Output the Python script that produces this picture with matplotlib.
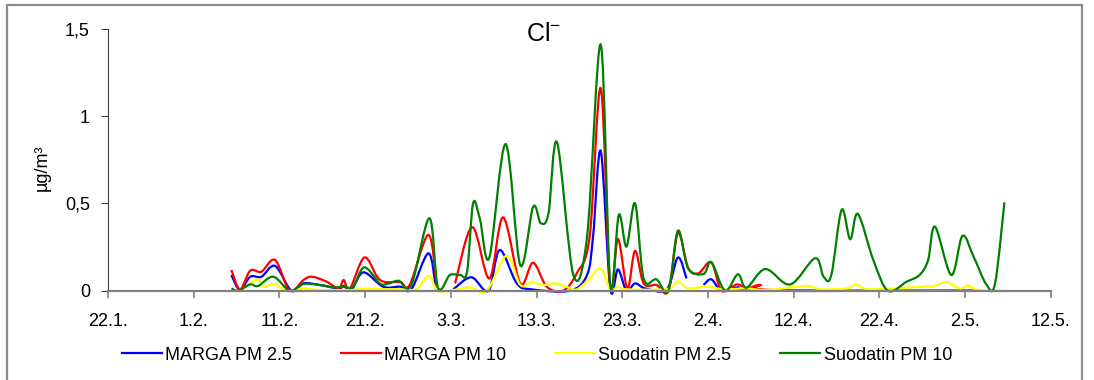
import numpy as np
import matplotlib
matplotlib.use("Agg")
import matplotlib.pyplot as plt
from matplotlib.path import Path
from matplotlib.patches import PathPatch, Rectangle
from matplotlib.lines import Line2D

plt.rcParams['font.family'] = ['Liberation Sans', 'DejaVu Sans']
plt.rcParams['mathtext.default'] = 'regular'

# x = days since 22.1., nan = gap in the series
tick_days = [0, 10, 20, 30, 40, 50, 60, 70, 80, 90, 100, 110]
tick_labels = ['22.1.', '1.2.', '11.2.', '21.2.', '3.3.', '13.3.', '23.3.',
               '2.4.', '12.4.', '22.4.', '2.5.', '12.5.']
y_ticks = [0, 0.5, 1, 1.5]
y_tick_labels = ['0', '0,5', '1', '1,5']

marga25_x = [14.4, 15.4, 16.6, 17.9, 19.5, 21.4, 22.8, 24.7, 26.9, 27.5, 28.4, 29.8,
             32.1, 34.1, 35.4, 37.4, 38.3, np.nan,
             40.3, 42.4, 44.4, 45.7, 47.7, 49.4, 53.9, 55.9, 56.6, 57.5, 58.6, 59.5,
             60.5, 61.5, 62.7, 65.2, 66.5, 67.5, np.nan,
             69.5, 70.4, 71.6, 73.5, 76.1, 101.3]
marga25_y = [0.09, 0.004, 0.08, 0.08, 0.142, 0.0, 0.042, 0.033, 0.013, 0.027, 0.004, 0.105,
             0.023, 0.023, 0.008, 0.214, 0.0, np.nan,
             0.008, 0.077, 0.0, 0.233, 0.042, 0.008, 0.0, 0.09, 0.31, 0.80, 0.015, 0.122,
             0.0, 0.042, 0.013, 0.008, 0.19, 0.07, np.nan,
             0.033, 0.065, 0.0, 0.019, 0.0, 0.0]

marga10_x = [14.4, 15.4, 16.6, 17.9, 19.5, 21.2, 22.8, 23.8, 25.5, 26.9, 27.5, 28.2,
             29.9, 31.4, 32.3, 34.1, 35.2, 37.4, 38.4, np.nan,
             40.5, 42.5, 44.5, 46.1, 48.1, 49.6, 51.2, 53.1, 54.7, 56.2, 57.5, 58.6,
             59.5, 60.6, 61.5, 62.5, 64.0, 65.4, 66.5, 67.7, 68.9, 70.4, 71.6, 73.4,
             74.5, 76.1, 77.6, 101.4]
marga10_y = [0.119, 0.008, 0.115, 0.109, 0.176, 0.0, 0.061, 0.08, 0.052, 0.013, 0.061, 0.008,
             0.19, 0.08, 0.05, 0.05, 0.033, 0.32, 0.005, np.nan,
             0.042, 0.364, 0.07, 0.42, 0.042, 0.16, 0.023, 0.0, 0.1, 0.31, 1.16, 0.025,
             0.297, 0.013, 0.228, 0.042, 0.033, 0.0, 0.33, 0.13, 0.1, 0.163, 0.0, 0.036,
             0.013, 0.033, 0.004, 0.0]

suod25_x = [14.4, 15.4, 17.4, 18.1, 19.3, 20.5, 21.4, 22.8, 24.7, 28.2, 29.9, 34.1,
            36.0, 37.4, 38.5, 40.3, 42.2, 44.2, 46.5, 48.1, 49.4, 50.8, 52.2, 53.5,
            54.7, 56.2, 57.5, 58.6, 59.5, 60.5, 65.2, 66.5, 67.7, 69.9, 71.8, 74.5,
            76.9, 81.5, 83.1, 86.2, 87.4, 88.9, 95.1, 96.3, 97.9, 99.4, 100.4, 101.6,
            104.5]
suod25_y = [0.004, 0.0, 0.065, 0.023, 0.038, 0.008, 0.0, 0.013, 0.004, 0.004, 0.01, 0.008,
            0.01, 0.084, 0.0, 0.004, 0.019, 0.0, 0.2, 0.033, 0.048, 0.033, 0.042, 0.023,
            0.008, 0.07, 0.128, 0.008, 0.023, 0.008, 0.01, 0.052, 0.015, 0.023, 0.008, 0.013,
            0.004, 0.027, 0.008, 0.013, 0.036, 0.008, 0.023, 0.027, 0.048, 0.013, 0.029, 0.004,
            0.0]

suod10_x = [14.4, 15.2, 16.6, 17.5, 19.3, 21.2, 22.8, 24.7, 26.3, 27.5, 28.6, 29.9,
            31.7, 32.5, 33.9, 35.4, 37.5, 38.5, 39.9, 41.1, 41.9, 42.6, 43.4, 44.5,
            46.4, 48.1, 49.6, 50.5, 51.4, 52.4, 54.3, 55.9, 57.5, 58.6, 59.6, 60.5,
            61.5, 62.5, 64.0, 65.4, 66.5, 67.7, 69.5, 70.4, 72.0, 73.5, 74.5, 76.7,
            79.6, 82.5, 83.5, 84.4, 85.6, 86.6, 87.5, 89.3, 91.0, 93.2, 94.7, 95.7,
            96.5, 98.4, 99.7, 101.0, 102.5, 103.5, 104.6]
suod10_y = [0.013, 0.0, 0.036, 0.027, 0.08, 0.0, 0.038, 0.033, 0.019, 0.023, 0.023, 0.134,
            0.042, 0.038, 0.057, 0.033, 0.415, 0.019, 0.09, 0.09, 0.11, 0.50, 0.41, 0.19,
            0.84, 0.147, 0.48, 0.387, 0.444, 0.85, 0.09, 0.31, 1.41, 0.035, 0.434, 0.253,
            0.5, 0.07, 0.065, 0.0, 0.344, 0.128, 0.096, 0.163, 0.0, 0.094, 0.017, 0.124,
            0.036, 0.186, 0.08, 0.09, 0.463, 0.295, 0.44, 0.176, 0.0, 0.052, 0.09, 0.176,
            0.367, 0.09, 0.314, 0.195, 0.035, 0.04, 0.507]

series = [
    ('MARGA PM 2.5', marga25_x, marga25_y, '#0000FF'),
    ('MARGA PM 10', marga10_x, marga10_y, '#FF0000'),
    ('Suodatin PM 2.5', suod25_x, suod25_y, '#FFFF00'),
    ('Suodatin PM 10', suod10_x, suod10_y, '#008000'),
]


def smooth_path(x, y):
    """Excel-like smoothed line: cubic Bezier through the points (Catmull-Rom)."""
    pts = np.column_stack([x, y])
    n = len(pts)
    verts = [pts[0]]
    codes = [Path.MOVETO]
    for i in range(n - 1):
        p0 = pts[i - 1] if i > 0 else pts[i]
        p1 = pts[i]
        p2 = pts[i + 1]
        p3 = pts[i + 2] if i + 2 < n else pts[i + 1]
        verts += [p1 + (p2 - p0) / 6, p2 - (p3 - p1) / 6, p2]
        codes += [Path.CURVE4] * 3
    return Path(verts, codes)


fig = plt.figure(figsize=(10.94, 3.8), dpi=100)
ax = fig.add_axes([108 / 1094, 1 - 290.7 / 380, 942.7 / 1094, 261.7 / 380])

handles = []
for name, xs, ys, col in series:
    xs = np.array(xs, dtype=float)
    ys = np.array(ys, dtype=float)
    breaks = np.where(np.isnan(xs))[0]
    for seg in np.split(np.arange(len(xs)), breaks):
        seg = seg[~np.isnan(xs[seg])]
        if len(seg) < 2:
            continue
        ax.add_patch(PathPatch(smooth_path(xs[seg], ys[seg]), facecolor='none',
                               edgecolor=col, lw=1.6, clip_on=False))
    handles.append(Line2D([], [], color=col, lw=1.6, label=name))

ax.set_xlim(0, 110)
ax.set_ylim(0, 1.5)
ax.set_xticks(tick_days)
ax.set_xticklabels(tick_labels, fontsize=13)
ax.set_yticks(y_ticks)
ax.set_yticklabels(y_tick_labels, fontsize=13)
ax.tick_params(axis='x', direction='out', length=5, width=1.2, color='#808080', pad=11)
ax.tick_params(axis='y', direction='out', length=5, width=0.8, color='#404040', pad=8)
for s in ['top', 'right']:
    ax.spines[s].set_visible(False)
ax.spines['bottom'].set_color('#808080')
ax.spines['bottom'].set_linewidth(1.6)
ax.spines['left'].set_color('#404040')
ax.spines['left'].set_linewidth(0.8)
ax.patch.set_alpha(0)

fig.text(42 / 1094, 1 - 168 / 380, 'µg/m³', rotation=90, ha='center', va='center', fontsize=13)
fig.text(544 / 1094, 1 - 34 / 380, 'Cl$^{-}$', ha='center', va='center', fontsize=18)

fig.legend(handles=handles, loc='center', bbox_to_anchor=(537 / 1094, 1 - 355 / 380),
           ncol=4, frameon=False, fontsize=13, handlelength=2.2, handletextpad=0.2,
           columnspacing=2.7)

fig.add_artist(Rectangle((7 / 1094, -0.05), 1075 / 1094, 1 - 5 / 380 + 0.05,
                         transform=fig.transFigure, fill=False, edgecolor='#8c8c8c',
                         lw=1.6, clip_on=False))

fig.savefig('out.png', dpi=100)
